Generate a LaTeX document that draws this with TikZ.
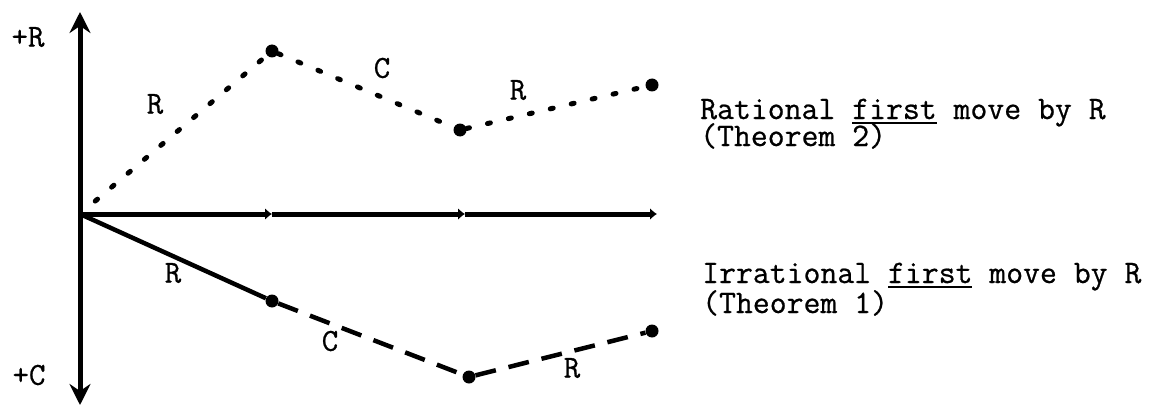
\documentclass[tikz,border=0pt]{standalone}
\usepackage{fontspec}
\newfontfamily\typerfont{Latin Modern Mono}[FakeBold=0.7]
\usetikzlibrary{arrows.meta}
\newcommand\ulword[1]{\setbox0\hbox{#1}\rlap{\rule[-5pt]{\wd0}{2.5pt}}\box0\relax}

\begin{document}
\begin{tikzpicture}[x=1pt,y=-1pt,
  axis/.style={line width=5pt},
  movedot/.style={circle, fill, inner sep=0pt, minimum size=13pt},
  ratline/.style={line width=5pt, line cap=round, dash pattern=on 3pt off 18.5pt},
  irrline/.style={line width=4.5pt, dash pattern=on 21pt off 13pt},
  lbl/.style={font=\typerfont\fontsize{32}{32}\selectfont},
  txt/.style={font=\typerfont\fontsize{32.8}{34}\selectfont, anchor=base west, inner sep=0pt}]
\useasboundingbox (0,0) rectangle (1155,409);
\coordinate (O) at (80,214);
\coordinate (top) at (80,12);
\coordinate (bot) at (80,405);
\coordinate (h1) at (272,214);
\coordinate (h2) at (465,214);
\coordinate (h3) at (657,214);
\draw[axis, -{Stealth[length=21pt,width=21pt,inset=7pt]}] (O) -- (top);
\draw[axis, -{Stealth[length=21pt,width=21pt,inset=7pt]}] (O) -- (bot);
\draw[axis, -{Latex[length=7pt,width=12pt]}] (O) -- (h1);
\draw[axis, -{Latex[length=7pt,width=12pt]}] (h1) -- (h2);
\draw[axis, -{Latex[length=7pt,width=12pt]}] (h2) -- (h3);
\node[lbl] (pr) at (28,37) {+R};
\node[lbl] (pc) at (29,375) {+C};
\node[movedot] (p1) at (272,51) {};
\node[movedot] (p2) at (460,130) {};
\node[movedot] (p3) at (652,85) {};
\node[movedot] (q1) at (272,301) {};
\node[movedot] (q2) at (469,377) {};
\node[movedot] (q3) at (652,331) {};
\draw[ratline, shorten <=20pt] (O) -- (p1);
\draw[ratline] (p1) -- (p2);
\draw[ratline] (p2) -- (p3);
\draw[line width=4.5pt] (O) -- (q1);
\draw[irrline] (q1) -- (q2);
\draw[irrline] (q2) -- (q3);
\node[lbl] (r1) at (155,104) {R};
\node[lbl] (c1) at (382,68) {C};
\node[lbl] (r2) at (518,90) {R};
\node[lbl] (r3) at (173,273) {R};
\node[lbl] (c2) at (330,341) {C};
\node[lbl] (r4) at (572,368) {R};
\node[txt] (rat) at (700,119) {Rational \ulword{first} move by R};
\node[txt] (ratthm) at (700,146) {(Theorem 2)};
\node[txt] (irr) at (702,283) {Irrational \ulword{first} move by R};
\node[txt] (irrthm) at (702,313) {(Theorem 1)};
\end{tikzpicture}
\end{document}
